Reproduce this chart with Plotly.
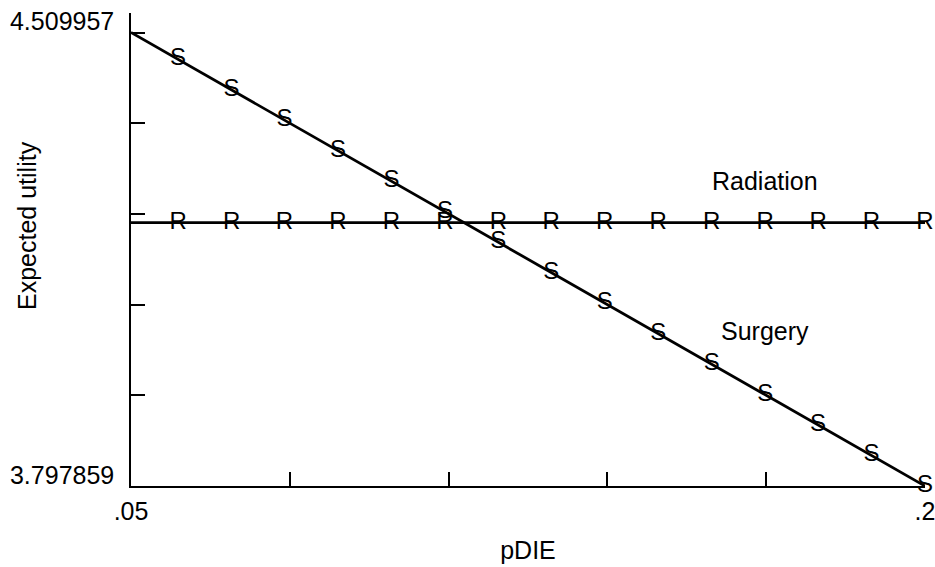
import plotly.graph_objects as go

# Data
pdie = [0.05, 0.0589, 0.0690, 0.0790, 0.0891, 0.0992, 0.1093, 0.1194, 0.1294,
        0.1395, 0.1496, 0.1597, 0.1698, 0.1798, 0.1899, 0.2]
surgery = [4.509957, 4.4677, 4.4198, 4.3723, 4.3243, 4.2764, 4.2284, 4.1805, 4.1330,
           4.0851, 4.0371, 3.9892, 3.9412, 3.8938, 3.8458, 3.797859]
radiation = [4.2115] * 16
surgery_marks = [""] + ["S"] * 15
radiation_marks = [""] + ["R"] * 15

x_ticks = [0.05, 0.08, 0.11, 0.14, 0.17, 0.2]
x_ticktext = [".05", "", "", "", "", ".2"]
y_min, y_max = 3.797859, 4.509957
y_ticks = [3.797859, 3.940279, 4.082699, 4.225118, 4.367538, 4.509957]
y_ticktext = ["3.797859", "", "", "", "", "4.509957"]

FONT = "Liberation Sans, Arial, Helvetica, sans-serif"
FS = 25

fig = go.Figure()
fig.add_trace(go.Scatter(
    x=pdie, y=surgery, mode="lines+text", text=surgery_marks,
    textposition="middle center", textfont=dict(family=FONT, size=24, color="black"),
    line=dict(color="black", width=2.8), name="Surgery", cliponaxis=False))
fig.add_trace(go.Scatter(
    x=pdie, y=radiation, mode="lines+text", text=radiation_marks,
    textposition="middle center", textfont=dict(family=FONT, size=24, color="black"),
    line=dict(color="black", width=2.8), name="Radiation", cliponaxis=False))

fig.add_annotation(x=0.1698, y=4.2768, text="Radiation", showarrow=False,
                   font=dict(family=FONT, size=FS, color="black"))
fig.add_annotation(x=0.1698, y=4.0413, text="Surgery", showarrow=False,
                   font=dict(family=FONT, size=FS, color="black"))
fig.add_annotation(x=-0.131, y=0.5518, xref="paper", yref="paper",
                   text="Expected utility", textangle=-90, showarrow=False,
                   xanchor="center", yanchor="middle",
                   font=dict(family=FONT, size=FS, color="black"))

fig.update_layout(
    width=935, height=567,
    margin=dict(l=131, r=10, t=13, b=81),
    paper_bgcolor="white", plot_bgcolor="white",
    showlegend=False,
    font=dict(family=FONT, size=FS, color="black"),
    xaxis=dict(
        range=[0.05, 0.2], tickvals=x_ticks, ticktext=x_ticktext,
        ticks="inside", ticklen=14, tickwidth=1.5, tickcolor="black",
        showline=True, linecolor="black", linewidth=1.5,
        showgrid=False, zeroline=False, automargin=False,
        ticklabelstandoff=2, ticklabeloverflow="allow",
        title=dict(text="pDIE", standoff=18, font=dict(family=FONT, size=FS)),
        tickfont=dict(family=FONT, size=FS),
    ),
    yaxis=dict(
        range=[y_min, 4.5406], tickvals=y_ticks, ticktext=y_ticktext,
        ticks="inside", ticklen=14, tickwidth=1.5, tickcolor="black",
        showline=True, linecolor="black", linewidth=1.5,
        showgrid=False, zeroline=False, automargin=False,
        ticklabelstandoff=10, ticklabelshift=-11, ticklabeloverflow="allow",
        tickfont=dict(family=FONT, size=FS),
    ),
)

fig.write_html("out.html", config={"displayModeBar": False},
               post_script="document.body.style.margin='0';")
